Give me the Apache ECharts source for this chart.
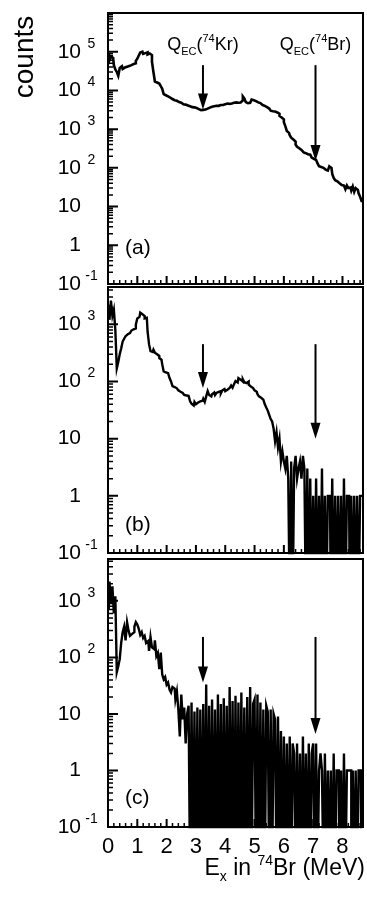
<!DOCTYPE html>
<html>
<head>
<meta charset="utf-8">
<script src="https://cdn.jsdelivr.net/npm/echarts@6/dist/echarts.min.js"></script>
<style>
html, body { margin: 0; padding: 0; background: #fff; }
#chart { width: 367px; height: 907px; }
</style>
</head>
<body>
<div id="chart"></div>
<script>
// histogram bins: 0.05 MeV wide, starting at 0 MeV
const binWidth = 0.05;
const xMax = 8.7;
const yMin = 0.1;
const zeroFloor = 0.01; // empty bins drop below the frame

// (a)
const countsA = [
    90000, 60000, 75000, 70000, 45000, 35000, 30000, 24000, 38000, 42000,
    36000, 39000, 41000, 40000, 43000, 45000, 44000, 48000, 50000, 58000,
    66000, 80000, 95000, 100000, 88000, 92000, 96000, 85000, 90000, 82000,
    55000, 30000, 17000, 16000, 15000, 14500, 13000, 11000, 8000, 7500,
    7000, 6800, 6500, 6000, 5900, 5600, 5400, 5200, 5000, 4800,
    4600, 4400, 4300, 4200, 4100, 3900, 3800, 3700, 3650, 3600,
    3500, 3300, 3200, 3100, 3150, 3100, 3200, 3400, 3300, 3600,
    3800, 3700, 3900, 4000, 4100, 4000, 4200, 4300, 4200, 4400,
    4500, 4600, 4500, 4700, 4600, 4800, 4700, 4900, 4800, 5000,
    4900, 5500, 7000, 6200, 5000, 4700, 4800, 5400, 5800, 5600,
    5300, 5000, 4900, 4700, 4400, 4200, 4000, 3900, 3700, 3400,
    3200, 3000, 2900, 2850, 2800, 2700, 2500, 2200, 2000, 1800,
    1500, 1200, 900, 800, 700, 600, 540, 480, 400, 350,
    320, 290, 260, 250, 240, 230, 225, 220, 200, 185,
    170, 160, 150, 130, 110, 105, 100, 95, 90, 85,
    95, 110, 100, 70, 55, 48, 45, 40, 38, 36,
    35, 33, 28, 35, 30, 31, 26, 33, 24, 30,
    27, 22, 18, 14
];

// (b)
const countsB = [
    2200, 1200, 2600, 1400, 1800, 800, 170, 220, 300, 380,
    500, 560, 620, 670, 700, 750, 780, 820, 850, 1000,
    1270, 1350, 1600, 1500, 1400, 1270, 1300, 750, 450, 340,
    330, 360, 320, 300, 280, 257, 240, 200, 150, 145,
    140, 130, 115, 100, 83, 80, 76, 74, 70, 66,
    63, 62, 58, 57, 56, 52, 45, 41, 38, 44,
    40, 43, 45, 42, 46, 50, 44, 55, 68, 58,
    55, 60, 64, 58, 63, 66, 68, 62, 70, 74,
    68, 72, 77, 80, 85, 78, 90, 102, 96, 115,
    108, 100, 110, 98, 94, 100, 88, 82, 77, 80,
    70, 66, 60, 55, 52, 48, 46, 40, 35, 31,
    26, 22, 20, 15, 9, 13, 7, 10, 4, 6,
    4, 3, 5, 2, 0, 4, 0, 3, 5, 2,
    3, 4, 2, 5, 3, 0, 3, 0, 2, 0,
    1, 0, 2, 0, 1, 0, 3, 0, 1, 0,
    1, 1, 0, 2, 0, 1, 0, 1, 0, 1,
    0, 2, 0, 1, 1, 0, 1, 0, 1, 0,
    1, 0, 1, 1
];

// (c)
const countsC = [
    700, 2200, 900, 1800, 600, 1200, 55, 70, 93, 180,
    280, 350, 200, 420, 300, 240, 260, 280, 350, 420,
    380, 320, 250, 280, 220, 240, 180, 195, 130, 230,
    150, 140, 200, 105, 120, 62, 122, 50, 41, 45,
    33, 36, 27, 24, 30, 28, 18, 25, 12, 4,
    22, 8, 13, 3, 10, 14, 0, 16, 0, 11,
    0, 13, 0, 12, 0, 15, 0, 33, 0, 14,
    0, 18, 0, 12, 0, 22, 0, 15, 0, 19,
    0, 14, 0, 30, 0, 17, 0, 21, 0, 16,
    0, 24, 0, 13, 0, 20, 0, 30, 0, 15,
    18, 0, 22, 0, 16, 0, 12, 0, 14, 11,
    0, 12, 0, 10, 8, 0, 9, 0, 5, 0,
    4, 0, 3, 0, 4, 0, 3, 2, 0, 3,
    0, 2, 0, 4, 0, 2, 0, 3, 0, 2,
    3, 0, 3, 0, 1, 2, 1, 0, 2, 0,
    1, 0, 1, 0, 2, 0, 1, 1, 0, 1,
    0, 2, 0, 1, 1, 1, 0, 1, 0, 1,
    0, 1, 1, 0
];

const yMaxA = 1e6;
const yMaxB = 4500;
const yMaxC = 5500;

// arrows: [E (MeV), top count, tip count]
const arrowsA = [[3.24, 45000, 3200], [7.08, 45000, 150]];
const arrowsB = [[3.24, 450, 77], [7.08, 450, 10]];
const arrowsC = [[3.24, 230, 36], [7.08, 230, 4.4]];
const arrowLabels = ['{n|Q}{sub|EC}{n|(}{sup|74}{n|Kr)}', '{n|Q}{sub|EC}{n|(}{sup|74}{n|Br)}'];

const panelTags = ['(a)', '(b)', '(c)'];
const minorSteps = [2, 3, 4, 5, 6, 7, 8, 9];
const xMajorTicks = [1, 2, 3, 4, 5, 6, 7, 8];
const xMinorStep = 0.2;

const font = '"Liberation Sans", Arial, Helvetica, sans-serif';

const grids = [
    { left: 108, top: 13, width: 255, height: 271 },
    { left: 108, top: 287, width: 255, height: 266 },
    { left: 108, top: 559, width: 255, height: 268 }
];

function hist(counts) {
    return counts.map((c, i) => [(i + 0.5) * binWidth, c > 0 ? c : zeroFloor]);
}

// tick marks as short broken line segments in data units
function tickSegments(g, yMax, major) {
    const mevPerPx = xMax / g.width;
    const decPerPx = Math.log10(yMax / yMin) / g.height;
    const gap = ['-', '-'];
    const out = [];
    const yLen = (major ? 10 : 5) * mevPerPx;
    const xLen = Math.pow(10, (major ? 8 : 4) * decPerPx);
    const yVals = [];
    for (let e = -1; Math.pow(10, e) <= yMax; e++) {
        const base = Math.pow(10, e);
        if (major) { if (e > -1) yVals.push(base); }
        else minorSteps.forEach((m) => { if (m * base < yMax) yVals.push(m * base); });
    }
    yVals.forEach((v) => { out.push([0, v], [yLen, v], gap); });
    const xVals = [];
    if (major) xMajorTicks.forEach((x) => xVals.push(x));
    else for (let k = 1; k * xMinorStep < xMax; k++) { if (k % 5 !== 0) xVals.push(k * xMinorStep); }
    xVals.forEach((x) => { out.push([x, yMin], [x, yMin * xLen], gap); });
    return out;
}

function arrowRenderer(labels) {
    return function (params, api) {
        const top = api.coord([api.value(0), api.value(1)]);
        const tip = api.coord([api.value(0), api.value(2)]);
        const children = [
            { type: 'line', shape: { x1: top[0], y1: top[1], x2: tip[0], y2: tip[1] - 10 }, style: { stroke: '#000', lineWidth: 2 } },
            { type: 'polygon', shape: { points: [[tip[0], tip[1]], [tip[0] - 5, tip[1] - 16], [tip[0] + 5, tip[1] - 16]] }, style: { fill: '#000' } }
        ];
        if (labels) {
            children.push({
                type: 'text', x: top[0], y: top[1] - 20,
                style: {
                    text: labels[params.dataIndex], align: 'center', verticalAlign: 'middle', fill: '#000',
                    rich: {
                        n: { fontFamily: font, fontSize: 18, lineHeight: 24, color: '#000' },
                        sub: { fontFamily: font, fontSize: 11, lineHeight: 11, verticalAlign: 'bottom', color: '#000' },
                        sup: { fontFamily: font, fontSize: 11, lineHeight: 11, verticalAlign: 'top', color: '#000' }
                    }
                }
            });
        }
        return { type: 'group', children: children };
    };
}

function powLabel(v) {
    const l = Math.log10(v);
    const e = Math.round(l);
    if (Math.abs(l - e) > 1e-6) return '';
    if (e === 0) return '{b|1}{s| }';
    if (e === 1) return '{b|10}{s| }';
    return '{b|10}{s|' + e + '}';
}

const yMaxes = [yMaxA, yMaxB, yMaxC];
const splits = [7, 5, 5];
const histograms = [countsA, countsB, countsC];
const lineWidths = [2.6, 2.4, 2.4];
const arrows = [arrowsA, arrowsB, arrowsC];

const series = [];
grids.forEach((g, k) => {
    series.push({
        type: 'line', xAxisIndex: k, yAxisIndex: k, data: hist(histograms[k]), step: 'middle',
        symbol: 'none', clip: true, lineStyle: { color: '#000', width: lineWidths[k], join: 'miter' }
    });
    series.push({
        type: 'line', xAxisIndex: k, yAxisIndex: k, data: tickSegments(g, yMaxes[k], true),
        symbol: 'none', connectNulls: false, clip: true, silent: true, z: 4,
        lineStyle: { color: '#000', width: 2, cap: 'butt' }
    });
    series.push({
        type: 'line', xAxisIndex: k, yAxisIndex: k, data: tickSegments(g, yMaxes[k], false),
        symbol: 'none', connectNulls: false, clip: true, silent: true, z: 4,
        lineStyle: { color: '#000', width: 1.5, cap: 'butt' }
    });
    series.push({
        type: 'custom', xAxisIndex: k, yAxisIndex: k, data: arrows[k],
        renderItem: arrowRenderer(k === 0 ? arrowLabels : null), silent: true, z: 6
    });
});

const option = {
    animation: false,
    backgroundColor: '#fff',
    grid: grids.map((g) => Object.assign({ show: true, borderColor: '#000', borderWidth: 2, backgroundColor: 'transparent' }, g)),
    xAxis: grids.map((g, k) => ({
        gridIndex: k, type: 'value', min: 0, max: xMax, interval: 1,
        axisLine: { show: false, onZero: false }, axisTick: { show: false }, splitLine: { show: false },
        axisLabel: {
            show: k === 2, color: '#000', fontFamily: font, fontSize: 22, margin: 9,
            formatter: (v) => (Math.abs(v - Math.round(v)) < 1e-6 ? String(Math.round(v)) : '')
        }
    })),
    yAxis: grids.map((g, k) => ({
        gridIndex: k, type: 'log', min: yMin, max: yMaxes[k], splitNumber: splits[k],
        axisLine: { show: false, onZero: false }, axisTick: { show: false }, splitLine: { show: false },
        axisLabel: {
            color: '#000', margin: 8, showMaxLabel: false, formatter: powLabel,
            rich: {
                b: { fontFamily: font, fontSize: 21, lineHeight: 30, color: '#000' },
                s: { fontFamily: font, fontSize: 14, lineHeight: 14, width: 17, align: 'left', verticalAlign: 'top', padding: [0, 0, 16, 2], color: '#000' }
            }
        }
    })),
    series: series,
    graphic: [
        { type: 'text', x: 25, y: 57, rotation: Math.PI / 2, style: { text: 'counts', font: '28px ' + font, fill: '#000', align: 'center', verticalAlign: 'middle' } },
        { type: 'text', x: 125, y: 248, style: { text: panelTags[0], font: '21px ' + font, fill: '#000', align: 'left', verticalAlign: 'middle' } },
        { type: 'text', x: 125, y: 525, style: { text: panelTags[1], font: '21px ' + font, fill: '#000', align: 'left', verticalAlign: 'middle' } },
        { type: 'text', x: 125, y: 798, style: { text: panelTags[2], font: '21px ' + font, fill: '#000', align: 'left', verticalAlign: 'middle' } },
        {
            type: 'text', x: 365, y: 869,
            style: {
                text: '{n|E}{sub|x}{n| in }{sup|74}{n|Br (MeV)}', align: 'right', verticalAlign: 'middle', fill: '#000',
                rich: {
                    n: { fontFamily: font, fontSize: 23, lineHeight: 30, color: '#000' },
                    sub: { fontFamily: font, fontSize: 14, lineHeight: 14, verticalAlign: 'bottom', color: '#000' },
                    sup: { fontFamily: font, fontSize: 14, lineHeight: 14, verticalAlign: 'top', color: '#000' }
                }
            }
        }
    ]
};

const chart = echarts.init(document.getElementById('chart'));
chart.setOption(option);
</script>
</body>
</html>
